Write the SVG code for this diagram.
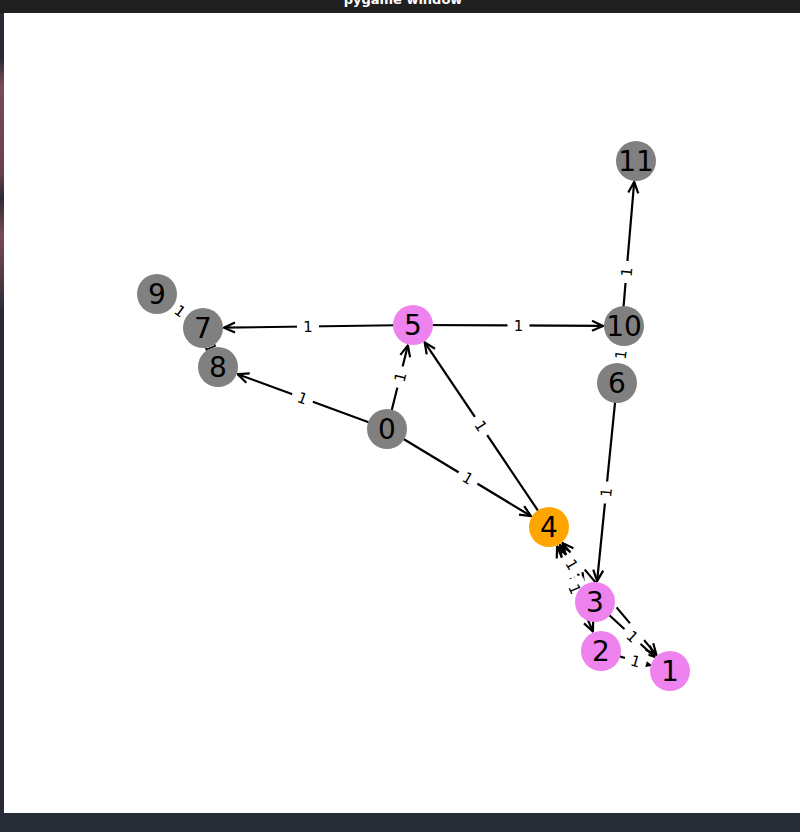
<svg xmlns="http://www.w3.org/2000/svg" width="800" height="832" viewBox="0 0 800 832">
<style>
.e{stroke:#000;stroke-width:2.2;fill:none}
.a{marker-end:url(#arr)}
.b{marker-start:url(#arr)}
.lb rect{fill:#fff}
.lb text{font-family:"DejaVu Sans",sans-serif;font-size:15px;text-anchor:middle;fill:#000}
.n text{font-family:"DejaVu Sans",sans-serif;font-size:28px;text-anchor:middle;fill:#000}
.g{fill:#808080}.v{fill:#ee82ee}.o{fill:#ffa500}
</style>
<defs>
<marker id="arr" viewBox="0 0 13 13" refX="12" refY="6.5" markerWidth="13" markerHeight="13" markerUnits="userSpaceOnUse" orient="auto-start-reverse">
<path d="M1,1.5 L12,6.5 L1,11.5" fill="none" stroke="#000" stroke-width="2.2"/>
</marker>
<linearGradient id="side" x1="0" y1="0" x2="0" y2="1">
<stop offset="0" stop-color="#2a2e38"/>
<stop offset="0.1" stop-color="#7a4a58"/>
<stop offset="0.45" stop-color="#6a4050"/>
<stop offset="0.55" stop-color="#2e2a36"/>
<stop offset="0.7" stop-color="#7a4a58"/>
<stop offset="0.85" stop-color="#5a3a48"/>
<stop offset="1" stop-color="#2a2e38"/>
</linearGradient>
</defs>
<g id="chrome">
<rect x="0" y="0" width="800" height="832" fill="#272b36"/>
<rect x="0" y="0" width="800" height="13" fill="#202020"/>
<rect x="0" y="60" width="4" height="250" fill="url(#side)"/>
<text x="403" y="3.5" font-family="DejaVu Sans,sans-serif" font-size="13" font-weight="bold" fill="#fff" text-anchor="middle">pygame window</text>
<rect x="4" y="13" width="796" height="800" fill="#fff"/>
</g>
<g id="edges">
<line class="e a" x1="413" y1="325" x2="224" y2="327.7"/>
<line class="e a" x1="413" y1="325" x2="603" y2="325.9"/>
<line class="e a" x1="617" y1="383" x2="634.2" y2="181.9"/>
<line class="e" x1="624" y1="326" x2="617" y2="383"/>
<line class="e a" x1="387" y1="429" x2="407.9" y2="345.4"/>
<line class="e a" x1="387" y1="429" x2="237.7" y2="374.2"/>
<line class="e a" x1="387" y1="429" x2="531" y2="516.1"/>
<line class="e a" x1="549" y1="527" x2="424.7" y2="342.4"/>
<line class="e a" x1="617" y1="383" x2="597.1" y2="581.1"/>
<line class="e" x1="157" y1="294" x2="203" y2="328"/>
<line class="e" x1="203" y1="328" x2="218" y2="367"/>
<line class="e a b" x1="560" y1="544.9" x2="584" y2="584.1"/>
<line class="e a b" x1="557.1" y1="546.4" x2="592.9" y2="631.6"/>
<line class="e a b" x1="562.5" y1="543.1" x2="656.5" y2="654.9"/>
<line class="e a" x1="595" y1="602" x2="654.5" y2="656.8"/>
<line class="e a" x1="601" y1="651" x2="649.8" y2="665.1"/>
</g>
<g id="edge-labels" class="lb">
<g transform="translate(308,326.5) rotate(-0.8)"><rect x="-11" y="-12" width="22" height="24" rx="4"/><text y="5.5">1</text></g>
<g transform="translate(518.5,325.5) rotate(0.3)"><rect x="-11" y="-12" width="22" height="24" rx="4"/><text y="5.5">1</text></g>
<g transform="translate(626.5,272) rotate(-85.1)"><rect x="-11" y="-12" width="22" height="24" rx="4"/><text y="5.5">1</text></g>
<g transform="translate(620.5,354.5) rotate(-83)"><rect x="-11" y="-12" width="22" height="24" rx="4"/><text y="5.5">1</text></g>
<g transform="translate(400,377) rotate(-76)"><rect x="-11" y="-12" width="22" height="24" rx="4"/><text y="5.5">1</text></g>
<g transform="translate(302.5,398) rotate(20.1)"><rect x="-11" y="-12" width="22" height="24" rx="4"/><text y="5.5">1</text></g>
<g transform="translate(468,478) rotate(31.2)"><rect x="-11" y="-12" width="22" height="24" rx="4"/><text y="5.5">1</text></g>
<g transform="translate(481,426) rotate(56)"><rect x="-11" y="-12" width="22" height="24" rx="4"/><text y="5.5">1</text></g>
<g transform="translate(606,492.5) rotate(-84.3)"><rect x="-11" y="-12" width="22" height="24" rx="4"/><text y="5.5">1</text></g>
<g transform="translate(180,311) rotate(36.5)"><rect x="-11" y="-12" width="22" height="24" rx="4"/><text y="5.5">1</text></g>
<g transform="translate(210.5,347.5) rotate(69)"><rect x="-11" y="-12" width="22" height="24" rx="4"/><text y="5.5">1</text></g>
<g transform="translate(572,564.5) rotate(58.5)"><rect x="-11" y="-12" width="22" height="24" rx="4"/><text y="5.5">1</text></g>
<g transform="translate(575,589) rotate(67.2)"><rect x="-11" y="-12" width="22" height="24" rx="4"/><text y="5.5">1</text></g>
<g transform="translate(609.5,599) rotate(50)"><rect x="-11" y="-12" width="22" height="24" rx="4"/><text y="5.5">1</text></g>
<g transform="translate(632.5,636.5) rotate(42.6)"><rect x="-11" y="-12" width="22" height="24" rx="4"/><text y="5.5">1</text></g>
<g transform="translate(635.5,661) rotate(16.2)"><rect x="-11" y="-12" width="22" height="24" rx="4"/><text y="5.5">1</text></g>
</g>
<g id="node-11" class="n"><circle class="g" cx="636" cy="161" r="20"/><text x="636" y="171">11</text></g>
<g id="node-9" class="n"><circle class="g" cx="157" cy="294" r="20"/><text x="157" y="304">9</text></g>
<g id="node-7" class="n"><circle class="g" cx="203" cy="328" r="20"/><text x="203" y="338">7</text></g>
<g id="node-8" class="n"><circle class="g" cx="218" cy="367" r="20"/><text x="218" y="377">8</text></g>
<g id="node-5" class="n"><circle class="v" cx="413" cy="325" r="20"/><text x="413" y="335">5</text></g>
<g id="node-10" class="n"><circle class="g" cx="624" cy="326" r="20"/><text x="624" y="336">10</text></g>
<g id="node-6" class="n"><circle class="g" cx="617" cy="383" r="20"/><text x="617" y="393">6</text></g>
<g id="node-0" class="n"><circle class="g" cx="387" cy="429" r="20"/><text x="387" y="439">0</text></g>
<g id="node-4" class="n"><circle class="o" cx="549" cy="527" r="20"/><text x="549" y="537">4</text></g>
<g id="node-3" class="n"><circle class="v" cx="595" cy="602" r="20"/><text x="595" y="612">3</text></g>
<g id="node-2" class="n"><circle class="v" cx="601" cy="651" r="20"/><text x="601" y="661">2</text></g>
<g id="node-1" class="n"><circle class="v" cx="670" cy="671" r="20"/><text x="670" y="681">1</text></g>
</svg>
